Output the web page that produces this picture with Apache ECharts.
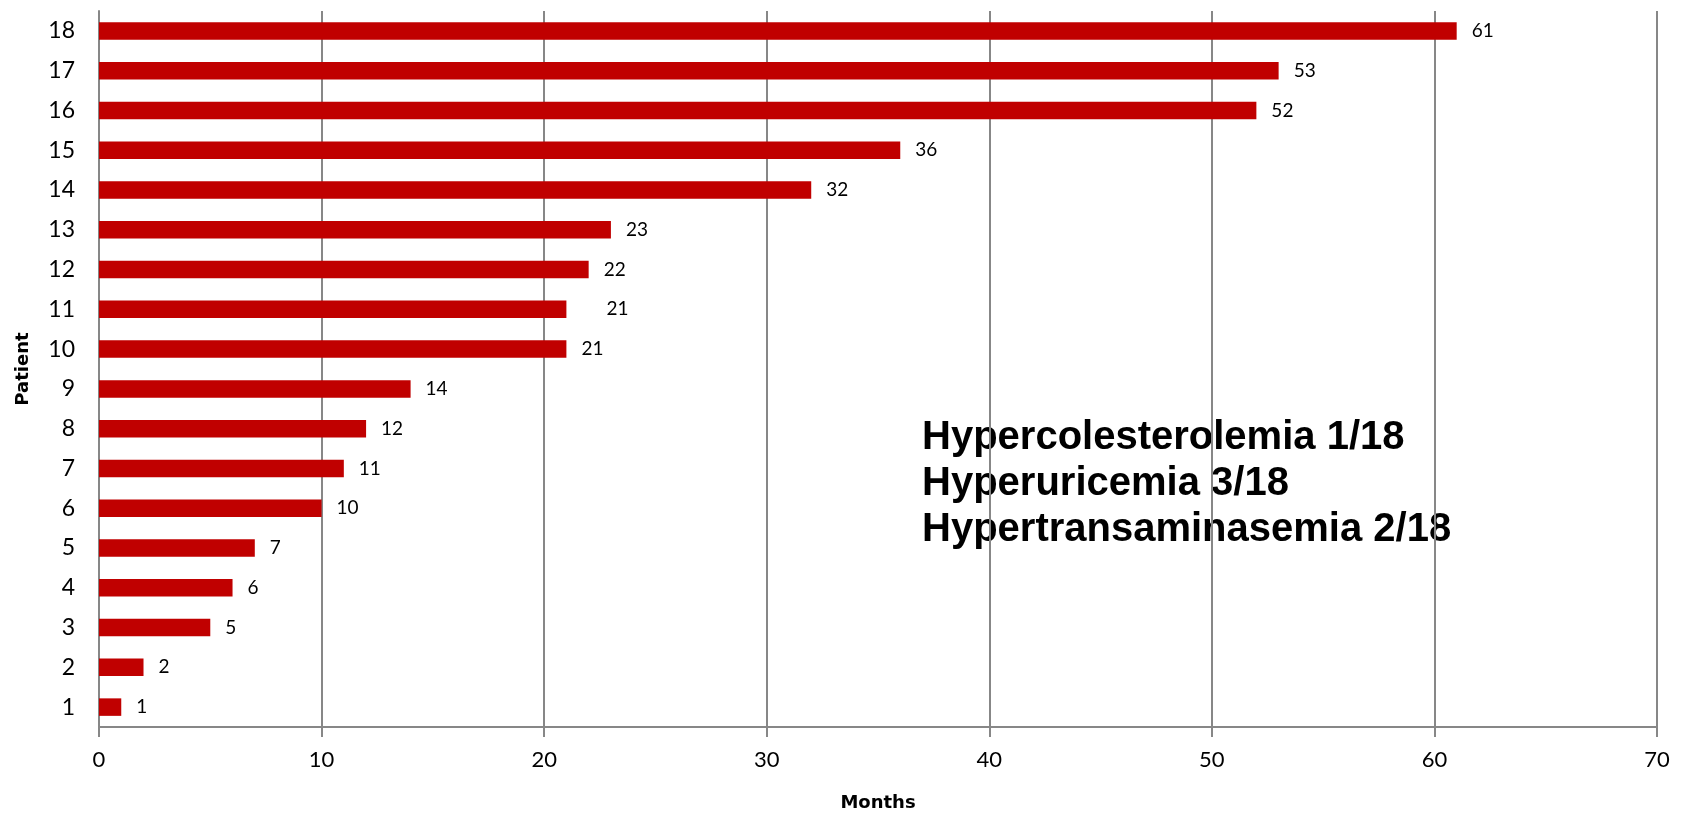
<!DOCTYPE html>
<html>
<head>
<meta charset="utf-8">
<script src="https://cdn.jsdelivr.net/npm/echarts@6/dist/echarts.min.js"></script>
<style>
  html, body { margin: 0; padding: 0; background: #fff; }
  #chart { width: 1684px; height: 815px; }
</style>
</head>
<body>
<div id="chart"></div>
<script>
// Patients 1..18 and months of follow-up for each
const patients = ['1','2','3','4','5','6','7','8','9','10','11','12','13','14','15','16','17','18'];
const months = [1, 2, 5, 6, 7, 10, 11, 12, 14, 21, 21, 22, 23, 32, 36, 52, 53, 61];
const monthTicks = [0, 10, 20, 30, 40, 50, 60, 70];
const notes = ['Hypercolesterolemia 1/18', 'Hyperuricemia 3/18', 'Hypertransaminasemia 2/18'];

const chart = echarts.init(document.getElementById('chart'));
const axisGray = '#878787';
const labelFont = 'Lato, "Open Sans", sans-serif';
const nameFont = '"DejaVu Sans", sans-serif';

// patient 11's value label sits a little further out than the others
const barData = months.map((v, i) =>
  patients[i] === '11' ? { value: v, label: { distance: 40 } } : v
);

chart.setOption({
  backgroundColor: '#ffffff',
  animation: false,
  grid: { left: 99, right: 27, top: 11, bottom: 88, outerBoundsMode: 'none', containLabel: false },
  xAxis: {
    type: 'value',
    min: monthTicks[0],
    max: monthTicks[monthTicks.length - 1],
    interval: 10,
    name: 'Months',
    nameLocation: 'middle',
    nameGap: 67,
    nameTextStyle: { fontFamily: nameFont, fontWeight: 'bold', fontSize: 18, color: '#000' },
    axisLine: { show: true, lineStyle: { color: axisGray, width: 2 } },
    axisTick: { show: true, length: 10, lineStyle: { color: axisGray, width: 2 } },
    axisLabel: { fontFamily: labelFont, fontSize: 22, color: '#000', margin: 22 },
    splitLine: { show: true, lineStyle: { color: axisGray, width: 2 } }
  },
  yAxis: {
    type: 'category',
    data: patients,
    name: 'Patient',
    nameLocation: 'middle',
    nameGap: 67,
    nameRotate: 90,
    nameTextStyle: { fontFamily: nameFont, fontWeight: 'bold', fontSize: 18, color: '#000' },
    axisLine: { show: true, lineStyle: { color: axisGray, width: 2 } },
    axisTick: { show: false },
    axisLabel: { fontFamily: labelFont, fontSize: 23, color: '#000', margin: 24 },
    splitLine: { show: false }
  },
  series: [{
    type: 'bar',
    data: barData,
    barCategoryGap: '56%',
    itemStyle: { color: '#c00000' },
    label: {
      show: true,
      position: 'right',
      distance: 15,
      fontFamily: labelFont,
      fontSize: 19,
      color: '#000'
    }
  }],
  graphic: [{
    type: 'text',
    left: 922,
    top: 415,
    style: {
      text: notes.join('\n'),
      font: 'bold 40px "Liberation Sans", Arial, sans-serif',
      lineHeight: 46,
      fill: '#000'
    }
  }]
});
</script>
</body>
</html>
